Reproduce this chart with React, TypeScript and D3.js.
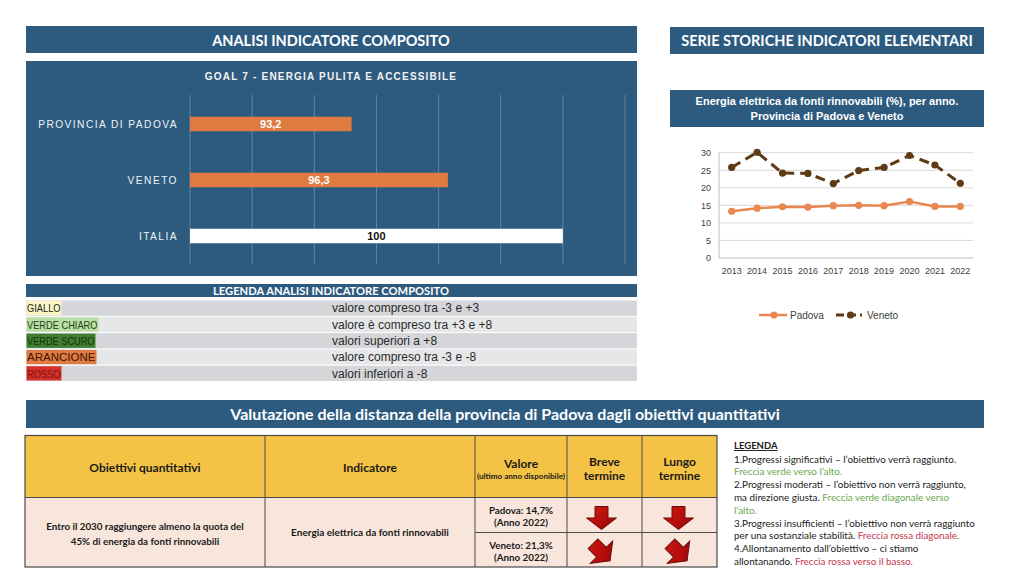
import React from 'react';
import * as d3 from 'd3';

// ---- data ----
const barCategories = ['PROVINCIA DI PADOVA', 'VENETO', 'ITALIA'];
const barValues = [93.2, 96.3, 100];
const barLabels = ['93,2', '96,3', '100'];

const years = ['2013', '2014', '2015', '2016', '2017', '2018', '2019', '2020', '2021', '2022'];
const padovaValues = [13.3, 14.2, 14.6, 14.5, 14.9, 15.0, 14.9, 16.1, 14.7, 14.7];
const venetoValues = [25.8, 30.1, 24.2, 24.1, 21.2, 24.9, 25.8, 29.2, 26.5, 21.3];
const yTicks = [0, 5, 10, 15, 20, 25, 30];

const legendClasses = ['GIALLO', 'VERDE CHIARO', 'VERDE SCURO', 'ARANCIONE', 'ROSSO'];
const legendDescriptions = [
  'valore compreso tra -3 e +3',
  'valore è compreso tra +3 e +8',
  'valori superiori a +8',
  'valore compreso tra -3 e -8',
  'valori inferiori a -8',
];
const legendSwatches = ['#fcf6c6', '#b9dfa6', '#3f7e30', '#e17a42', '#d3312a'];
const legendInk = ['#222222', '#1f4213', '#16330f', '#3b1705', '#7e120e'];

const tableHeaders = ['Obiettivi quantitativi', 'Indicatore'];
const objectiveLines = ['Entro il 2030 raggiungere almeno la quota del', '45% di energia da fonti rinnovabili'];
const indicatorName = 'Energia elettrica da fonti rinnovabili';
const valueRows = [
  ['Padova: 14,7%', '(Anno 2022)'],
  ['Veneto: 21,3%', '(Anno 2022)'],
];
const shortTrend = ['down', 'diag'];
const longTrend = ['down', 'diag'];

const legendLines: { text: string; color: string }[][] = [
  [{ text: '1.Progressi significativi – l’obiettivo verrà raggiunto.', color: '#1a1a1a' }],
  [{ text: 'Freccia verde verso l’alto.', color: '#6aa84f' }],
  [{ text: '2.Progressi moderati – l’obiettivo non verrà raggiunto,', color: '#1a1a1a' }],
  [
    { text: 'ma direzione giusta. ', color: '#1a1a1a' },
    { text: 'Freccia verde diagonale verso', color: '#6aa84f' },
  ],
  [{ text: 'l’alto.', color: '#6aa84f' }],
  [{ text: '3.Progressi insufficienti – l’obiettivo non verrà raggiunto', color: '#1a1a1a' }],
  [
    { text: 'per una sostanziale stabilità. ', color: '#1a1a1a' },
    { text: 'Freccia rossa diagonale.', color: '#c3354c' },
  ],
  [{ text: '4.Allontanamento dall’obiettivo – ci stiamo', color: '#1a1a1a' }],
  [
    { text: 'allontanando. ', color: '#1a1a1a' },
    { text: 'Freccia rossa verso il basso.', color: '#c3354c' },
  ],
];

const BLUE = '#2d5b7f';
const CAL = 'Lato, "Open Sans", sans-serif';
const HELV = '"Liberation Sans", Arial, sans-serif';

const Arrow: React.FC<{ cx: number; cy: number; kind: string }> = ({ cx, cy, kind }) => {
  // block arrow pointing down, centred on 0,0
  const d = 'M-6.5,-11.5 L6.5,-11.5 L6.5,0 L15,0 L0,11.5 L-15,0 L-6.5,0 Z';
  const t = kind === 'diag' ? `translate(${cx},${cy}) rotate(-45) scale(1.05)` : `translate(${cx},${cy})`;
  return (
    <g transform={t}>
      <path d={d} fill="url(#arrowGrad)" stroke="#6e0a0a" strokeWidth={1} />
    </g>
  );
};

const App: React.FC = () => {
  const width = 1024;
  const height = 576;

  // bar chart scales
  const xBar = d3.scaleLinear().domain([88, 102]).range([190, 625]);
  const yBar = d3.scalePoint<string>().domain(barCategories).range([96, 264]).padding(0.5);
  const barH = 14.5;

  // line chart scales
  const xLine = d3.scaleBand<string>().domain(years).range([719, 973]);
  const yLine = d3.scaleLinear().domain([0, 30]).range([258, 152.7]);
  const cx = (y: string) => (xLine(y) as number) + xLine.bandwidth() / 2;
  const line = d3
    .line<number>()
    .x((_, i) => cx(years[i]))
    .y((v) => yLine(v));

  // legend table rows
  const rowTop = 300.5;
  const rowH = 16.3;
  const labelWidths = [35, 72, 69, 70, 35];

  // bottom table columns
  const cols = [25, 265, 475, 567, 642, 717];
  const tTop = 435.5;
  const tHead = 497.5;
  const tMid = 532.5;
  const tBot = 567;

  return (
    <svg
      width={width}
      height={height}
      viewBox={`0 0 ${width} ${height}`}
      style={{ position: 'absolute', left: 0, top: 0, background: '#ffffff' }}
    >
      <defs>
        <linearGradient id="arrowGrad" x1="0" y1="0" x2="1" y2="1">
          <stop offset="0" stopColor="#d01a12" />
          <stop offset="0.6" stopColor="#b40c0c" />
          <stop offset="1" stopColor="#7d0606" />
        </linearGradient>
      </defs>
      <rect x={0} y={0} width={width} height={height} fill="#ffffff" />

      {/* ---- left header ---- */}
      <rect x={26} y={26} width={611} height={27} fill={BLUE} />
      <text x={331} y={45.5} textAnchor="middle" fill="#fff" fontFamily={CAL} fontWeight={700} fontSize={14.5}>
        ANALISI INDICATORE COMPOSITO
      </text>

      {/* ---- bar chart panel ---- */}
      <rect x={26} y={61} width={611} height={215} fill={BLUE} />
      <text
        x={331}
        y={80}
        textAnchor="middle"
        fill="#f2f2f2"
        fontFamily={HELV}
        fontWeight={700}
        fontSize={10}
        letterSpacing={1.2}
      >
        GOAL 7 - ENERGIA PULITA E ACCESSIBILE
      </text>
      {xBar.ticks(7).map((t) => (
        <line key={t} x1={xBar(t)} x2={xBar(t)} y1={95} y2={264} stroke="#5f86a4" strokeWidth={1} />
      ))}
      {barCategories.map((c, i) => {
        const y = yBar(c) as number;
        const italia = c === 'ITALIA';
        return (
          <g key={c}>
            <rect
              x={xBar(88)}
              y={y - barH / 2}
              width={xBar(barValues[i]) - xBar(88)}
              height={barH}
              fill={italia ? '#ffffff' : '#e07b40'}
            />
            <text
              x={(xBar(88) + xBar(barValues[i])) / 2}
              y={y + 4}
              textAnchor="middle"
              fill={italia ? '#111' : '#fff'}
              fontFamily={HELV}
              fontWeight={700}
              fontSize={11}
            >
              {barLabels[i]}
            </text>
            <text
              x={178}
              y={y + 3.8}
              textAnchor="end"
              fill="#eef2f6"
              fontFamily={HELV}
              fontSize={10.2}
              letterSpacing={1.45}
            >
              {c}
            </text>
          </g>
        );
      })}

      {/* ---- composite legend table ---- */}
      <rect x={26} y={284} width={611} height={13} fill={BLUE} />
      <text
        x={331}
        y={294.8}
        textAnchor="middle"
        fill="#fff"
        fontFamily={CAL}
        fontWeight={700}
        fontSize={11.2}
        textLength={236}
        lengthAdjust="spacingAndGlyphs"
      >
        LEGENDA ANALISI INDICATORE COMPOSITO
      </text>
      {legendClasses.map((c, i) => {
        const y = rowTop + i * rowH;
        return (
          <g key={c}>
            <rect x={26} y={y} width={611} height={rowH - 1} fill={i % 2 === 0 ? '#d5d6d9' : '#e6e7e9'} />
            <rect x={26.5} y={y + 0.5} width={labelWidths[i]} height={rowH - 2} fill={legendSwatches[i]} />
            <text
              x={27}
              y={y + 11.8}
              fill={legendInk[i]}
              fontFamily={HELV}
              fontSize={11}
              textLength={labelWidths[i] - 1.5}
              lengthAdjust="spacingAndGlyphs"
            >
              {c}
            </text>
            <text x={332} y={y + 11.8} fill="#2a2a2a" fontFamily={HELV} fontSize={12}>
              {legendDescriptions[i]}
            </text>
          </g>
        );
      })}

      {/* ---- right header ---- */}
      <rect x={670} y={27} width={314} height={27} fill={BLUE} />
      <text x={827} y={46} textAnchor="middle" fill="#fff" fontFamily={CAL} fontWeight={700} fontSize={14.5}>
        SERIE STORICHE INDICATORI ELEMENTARI
      </text>
      <rect x={670} y={90} width={314} height={37} fill={BLUE} />
      <text textAnchor="middle" fill="#fff" fontFamily={HELV} fontWeight={700} fontSize={11}>
        <tspan x={827} y={105}>Energia elettrica da fonti rinnovabili (%), per anno.</tspan>
        <tspan x={827} y={119.5}>Provincia di Padova e Veneto</tspan>
      </text>

      {/* ---- line chart ---- */}
      {yTicks.map((t) => (
        <g key={t}>
          {t > 0 && <line x1={719} x2={973} y1={yLine(t)} y2={yLine(t)} stroke="#d9d9d9" strokeWidth={1} />}
          <text x={711} y={yLine(t) + 3.3} textAnchor="end" fill="#404040" fontFamily={HELV} fontSize={9}>
            {t}
          </text>
        </g>
      ))}
      <line x1={719} x2={719} y1={yLine(30)} y2={yLine(0)} stroke="#bfbfbf" strokeWidth={1} />
      <line x1={719} x2={973} y1={yLine(0)} y2={yLine(0)} stroke="#bfbfbf" strokeWidth={1} />
      {years.map((y) => (
        <text key={y} x={cx(y)} y={274} textAnchor="middle" fill="#404040" fontFamily={HELV} fontSize={9}>
          {y}
        </text>
      ))}
      <path d={line(venetoValues) || ''} fill="none" stroke="#5e3b14" strokeWidth={3} strokeDasharray="10,6" />
      {venetoValues.map((v, i) => (
        <circle key={i} cx={cx(years[i])} cy={yLine(v)} r={3.6} fill="#5e3b14" />
      ))}
      <path d={line(padovaValues) || ''} fill="none" stroke="#e8874f" strokeWidth={2.5} />
      {padovaValues.map((v, i) => (
        <circle key={i} cx={cx(years[i])} cy={yLine(v)} r={3.6} fill="#e8874f" />
      ))}

      {/* line chart legend */}
      <line x1={759} x2={787} y1={315} y2={315} stroke="#e8874f" strokeWidth={2.5} />
      <circle cx={774} cy={315} r={3.6} fill="#e8874f" />
      <text x={790} y={318.5} fill="#404040" fontFamily={HELV} fontSize={10}>
        Padova
      </text>
      <line x1={836} x2={862} y1={315} y2={315} stroke="#5e3b14" strokeWidth={3} strokeDasharray="8,4" />
      <circle cx={850.5} cy={315} r={3.6} fill="#5e3b14" />
      <text x={867} y={318.5} fill="#404040" fontFamily={HELV} fontSize={10}>
        Veneto
      </text>

      {/* ---- bottom banner ---- */}
      <rect x={26} y={400} width={958} height={28} fill={BLUE} />
      <text x={505} y={419.5} textAnchor="middle" fill="#fff" fontFamily={CAL} fontWeight={700} fontSize={16}>
        Valutazione della distanza della provincia di Padova dagli obiettivi quantitativi
      </text>

      {/* ---- objectives table ---- */}
      <rect x={cols[0]} y={tTop} width={cols[5] - cols[0]} height={tHead - tTop} fill="#f4c244" />
      <rect x={cols[0]} y={tHead} width={cols[5] - cols[0]} height={tBot - tHead} fill="#f8e6dc" />
      <rect x={cols[0]} y={tTop} width={cols[5] - cols[0]} height={tBot - tTop} fill="none" stroke="#4a4a4a" strokeWidth={1.2} />
      <line x1={cols[0]} x2={cols[5]} y1={tHead} y2={tHead} stroke="#4a4a4a" strokeWidth={1.2} />
      <line x1={cols[2]} x2={cols[5]} y1={tMid} y2={tMid} stroke="#4a4a4a" strokeWidth={1} />
      {cols.slice(1, 5).map((x) => (
        <line key={x} x1={x} x2={x} y1={tTop} y2={tBot} stroke="#4a4a4a" strokeWidth={1} />
      ))}
      {tableHeaders.map((h, i) => (
        <text
          key={h}
          x={(cols[i] + cols[i + 1]) / 2}
          y={471.5}
          textAnchor="middle"
          fill="#1a1a1a"
          fontFamily={CAL}
          fontWeight={700}
          fontSize={12}
        >
          {h}
        </text>
      ))}
      <text x={(cols[2] + cols[3]) / 2} y={467.5} textAnchor="middle" fill="#1a1a1a" fontFamily={CAL} fontWeight={700} fontSize={12}>
        Valore
      </text>
      <text
        x={(cols[2] + cols[3]) / 2}
        y={478.5}
        textAnchor="middle"
        fill="#1a1a1a"
        fontFamily={CAL}
        fontWeight={700}
        fontSize={6.8}
        textLength={88}
        lengthAdjust="spacingAndGlyphs"
      >
        (ultimo anno disponibile)
      </text>
      {[['Breve', 'termine'], ['Lungo', 'termine']].map((lines, i) => (
        <text key={i} textAnchor="middle" fill="#1a1a1a" fontFamily={CAL} fontWeight={700} fontSize={12}>
          <tspan x={(cols[3 + i] + cols[4 + i]) / 2} y={465.5}>{lines[0]}</tspan>
          <tspan x={(cols[3 + i] + cols[4 + i]) / 2} y={479.5}>{lines[1]}</tspan>
        </text>
      ))}
      <text textAnchor="middle" fill="#1a1a1a" fontFamily={CAL} fontWeight={700} fontSize={9.8}>
        <tspan x={(cols[0] + cols[1]) / 2} y={529.5}>{objectiveLines[0]}</tspan>
        <tspan x={(cols[0] + cols[1]) / 2} y={544.5}>{objectiveLines[1]}</tspan>
      </text>
      <text x={(cols[1] + cols[2]) / 2} y={536} textAnchor="middle" fill="#1a1a1a" fontFamily={CAL} fontWeight={700} fontSize={10}>
        {indicatorName}
      </text>
      {valueRows.map((r, i) => {
        const top = i === 0 ? tHead : tMid;
        return (
          <text key={i} textAnchor="middle" fill="#1a1a1a" fontFamily={CAL} fontWeight={700} fontSize={9.8}>
            <tspan x={(cols[2] + cols[3]) / 2} y={top + 16}>{r[0]}</tspan>
            <tspan x={(cols[2] + cols[3]) / 2} y={top + 28}>{r[1]}</tspan>
          </text>
        );
      })}
      {shortTrend.map((k, i) => (
        <Arrow
          key={`s${i}`}
          kind={k}
          cx={(cols[3] + cols[4]) / 2 - 3}
          cy={(i === 0 ? tHead + tMid : tMid + tBot) / 2 + (i === 0 ? 3 : 2.5)}
        />
      ))}
      {longTrend.map((k, i) => (
        <Arrow
          key={`l${i}`}
          kind={k}
          cx={(cols[4] + cols[5]) / 2 - 1}
          cy={(i === 0 ? tHead + tMid : tMid + tBot) / 2 + (i === 0 ? 3 : 2.5)}
        />
      ))}

      {/* ---- arrows legend ---- */}
      <text x={734} y={449} fill="#1a1a1a" fontFamily={CAL} fontWeight={700} fontSize={9.5} textDecoration="underline">
        LEGENDA
      </text>
      {legendLines.map((parts, i) => (
        <text key={i} x={734} y={462.5 + i * 12.8} fontFamily={CAL} fontSize={9.9}>
          {parts.map((p, j) => (
            <tspan key={j} fill={p.color}>
              {p.text}
            </tspan>
          ))}
        </text>
      ))}
    </svg>
  );
};

export default App;
